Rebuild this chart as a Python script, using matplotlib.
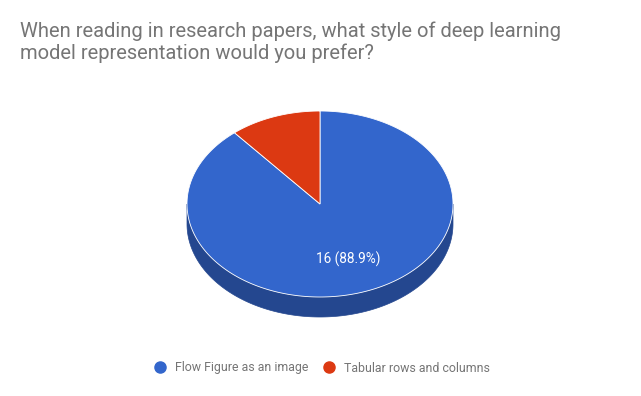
import numpy as np
import matplotlib
matplotlib.use("Agg")
import matplotlib.pyplot as plt
from matplotlib.patches import Polygon
from matplotlib.lines import Line2D

title = "When reading in research papers, what style of deep learning\nmodel representation would you prefer?"
categories = ["Flow Figure as an image", "Tabular rows and columns"]
values = [16, 2]
colors = ["#3366CC", "#DC3912"]
side_colors = ["#24478F", "#9A280D"]

plt.rcParams['font.family'] = ['Roboto', 'DejaVu Sans']

W, H = 641, 396
fig = plt.figure(figsize=(W / 100, H / 100), dpi=100)
ax = fig.add_axes([0, 0, 1, 1])
ax.set_xlim(0, W)
ax.set_ylim(H, 0)
ax.axis('off')

cx, cy, rx, ry, depth = 320, 204, 133, 93, 20
total = sum(values)

def pt(a, dy=0.0):
    a = np.asarray(a)
    return np.column_stack([cx + rx * np.cos(a), cy - ry * np.sin(a) + dy])

# angles: start at top, go clockwise
start = np.pi / 2
wedges = []
for v, c, sc in zip(values, colors, side_colors):
    sweep = 2 * np.pi * v / total
    a0, a1 = start - sweep, start
    wedges.append((a0, a1, c, sc, v))
    start -= sweep

# side walls (visible part: lower half of the ellipse)
for a0, a1, c, sc, v in wedges:
    for k in (-1, 0, 1):
        lo = max(a0, np.pi + 2 * np.pi * k)
        hi = min(a1, 2 * np.pi + 2 * np.pi * k)
        if hi > lo:
            t = np.linspace(lo, hi, 200)
            top = pt(t)
            bot = pt(t[::-1], depth)
            ax.add_patch(Polygon(np.vstack([top, bot]), closed=True,
                                 facecolor=sc, edgecolor=sc, lw=0.5))

# top faces
for a0, a1, c, sc, v in wedges:
    t = np.linspace(a0, a1, 400)
    verts = np.vstack([[cx, cy], pt(t)])
    ax.add_patch(Polygon(verts, closed=True, facecolor=c, edgecolor='white', lw=0.6))

# labels
for a0, a1, c, sc, v in wedges:
    if v / total > 0.5:
        mid = (a0 + a1) / 2
        x = cx + 0.63 * rx * np.cos(mid)
        y = cy - 0.63 * ry * np.sin(mid)
        ax.text(x, y, f"{v} ({100 * v / total:.1f}%)", color='white',
                fontsize=9.8, ha='center', va='center')

ax.text(20, 21, title, fontsize=14.5, color='#757575', ha='left', va='top',
        linespacing=1.2)

handles = [Line2D([], [], marker='o', linestyle='none', markersize=8,
                  markerfacecolor=c, markeredgecolor=c) for c in colors]
fig.legend(handles, categories, loc='center', bbox_to_anchor=(320.5 / W, 1 - 368 / H),
           ncol=2, frameon=False, fontsize=8.9, labelcolor='#757575',
           handletextpad=0.5, columnspacing=1.0, handlelength=1.4)

fig.savefig("out.png", dpi=100)
